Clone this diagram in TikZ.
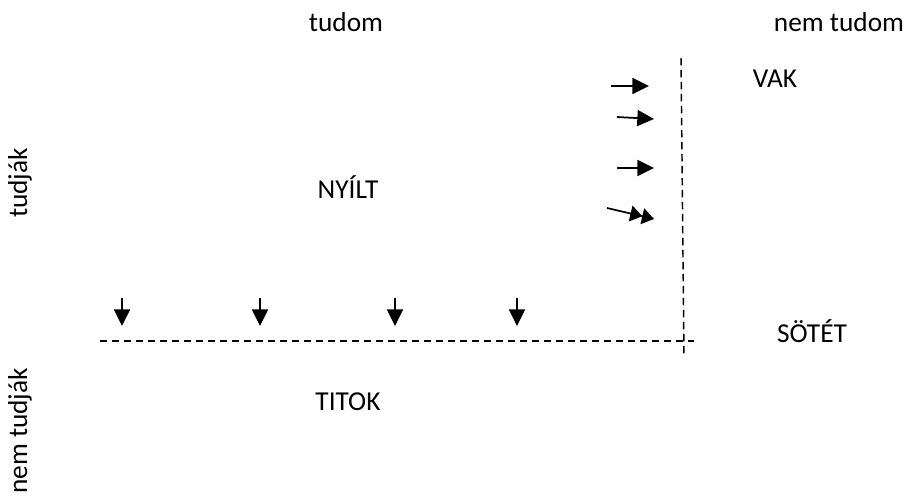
\documentclass[tikz,border=0pt]{standalone}
\usepackage{fontspec}
\setmainfont{Carlito}
\usetikzlibrary{arrows.meta}
\begin{document}
\begin{tikzpicture}[x=0.75pt,y=-0.75pt,
  lbl/.style={font=\fontsize{20.5}{24}\selectfont, inner sep=0pt},
  divider/.style={line width=1.1pt, dash pattern=on 5.5pt off 3.5pt},
  arr/.style={line width=1.3pt, -{Triangle[length=12.5pt,width=12pt]}},
  darr/.style={line width=1.3pt, -{Triangle[length=9pt,width=12pt]Triangle[length=9pt,width=12pt]}}]
\useasboundingbox (0,0) rectangle (911,499);
\node[lbl] (tudom) at (346,22) {tudom};
\node[lbl] (nemtudom) at (839,22) {nem tudom};
\node[lbl] (vak) at (775,79) {VAK};
\node[lbl] (nyilt) at (348,187) {NYÍLT};
\node[lbl] (sotet) at (812,331) {SÖTÉT};
\node[lbl] (titok) at (348,402) {TITOK};
\node[lbl, rotate=90] (tudjak) at (20,183) {tudják};
\node[lbl, rotate=90] (nemtudjak) at (20,431) {nem tudják};
% dividers
\coordinate (vtop) at (681,58);
\coordinate (vbot) at (684,356);
\coordinate (hl) at (100,341);
\coordinate (hr) at (694,341);
\draw[divider] (vtop) -- (vbot);
\draw[divider] (hl) -- (hr);
% right arrows
\coordinate (r1a) at (611,86); \coordinate (r1b) at (649,86);
\coordinate (r2a) at (617,117); \coordinate (r2b) at (654,119);
\coordinate (r3a) at (617,168); \coordinate (r3b) at (654,168);
\coordinate (r4a) at (607,208); \coordinate (r4b) at (654,219);
\draw[arr] (r1a) -- (r1b);
\draw[arr] (r2a) -- (r2b);
\draw[arr] (r3a) -- (r3b);
\draw[darr] (r4a) -- (r4b);
% down arrows
\foreach \i/\x in {1/122,2/260,3/395,4/517}{
  \coordinate (d\i a) at (\x,298);
  \coordinate (d\i b) at (\x,326);
  \draw[arr] (d\i a) -- (d\i b);
}
\end{tikzpicture}
\end{document}
